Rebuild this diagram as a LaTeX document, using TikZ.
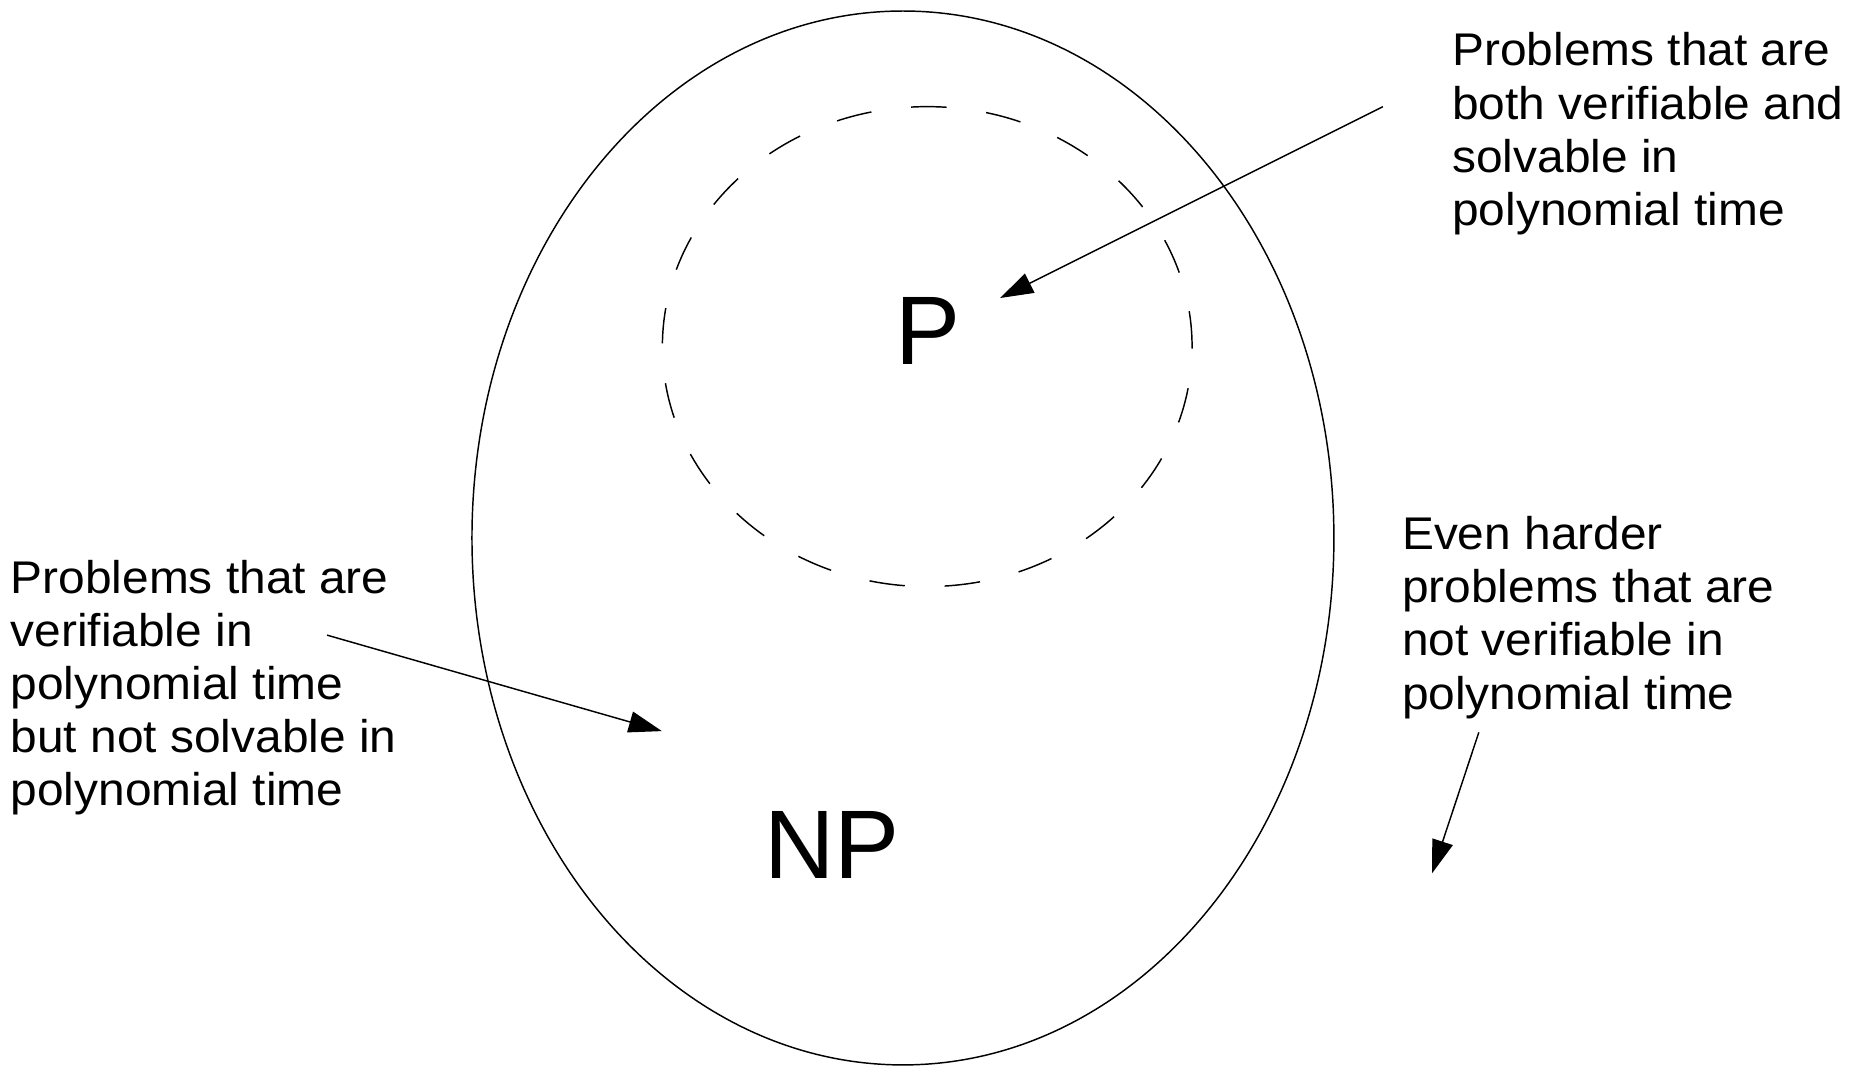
\documentclass[tikz,border=0pt]{standalone}
\usepackage{fontspec}
\setmainfont{Liberation Sans}
\newfontfamily\notefont{Liberation Sans}[FakeStretch=1.045]
\usetikzlibrary{arrows.meta}

\begin{document}
\begin{tikzpicture}[
  line width=0.35pt,
  note/.style={anchor=north west, inner sep=0pt, align=left,
               font=\notefont\fontsize{11}{12.75}\selectfont},
  big/.style={anchor=base, inner sep=0pt,
              font=\fontsize{23.4}{28}\selectfont},
  flow/.style={-{Triangle[length=2.8mm, width=1.8mm]}}
]
  \useasboundingbox (0,0) rectangle (15.68,9);

  % the two classes
  \draw (7.62,4.46) ellipse [x radius=3.637, y radius=4.447];
  \draw[dash pattern=on 3mm off 3.37mm]
    (7.825,6.075) ellipse [x radius=2.235, y radius=2.025];
  \node[big] (p) at (7.835,5.92) {P};
  \node[big] (np) at (7.02,1.59) {NP};

  % side notes
  \node[note] (both) at (12.25,8.73)
    {Problems that are\\both verifiable and\\solvable in\\polynomial time};
  \node[note] (onlynp) at (0.084,4.28)
    {Problems that are\\verifiable in\\polynomial time\\but not solvable in\\polynomial time};
  \node[note] (harder) at (11.826,4.647)
    {Even harder\\problems that are\\not verifiable in\\polynomial time};

  \coordinate (both-from) at (11.67,8.10);
  \coordinate (both-to) at (8.44,6.485);
  \coordinate (onlynp-from) at (2.76,3.64);
  \coordinate (onlynp-to) at (5.586,2.83);
  \coordinate (harder-from) at (12.48,2.82);
  \coordinate (harder-to) at (12.086,1.631);

  \draw[flow] (both-from) -- (both-to);
  \draw[flow] (onlynp-from) -- (onlynp-to);
  \draw[flow] (harder-from) -- (harder-to);
\end{tikzpicture}
\end{document}
